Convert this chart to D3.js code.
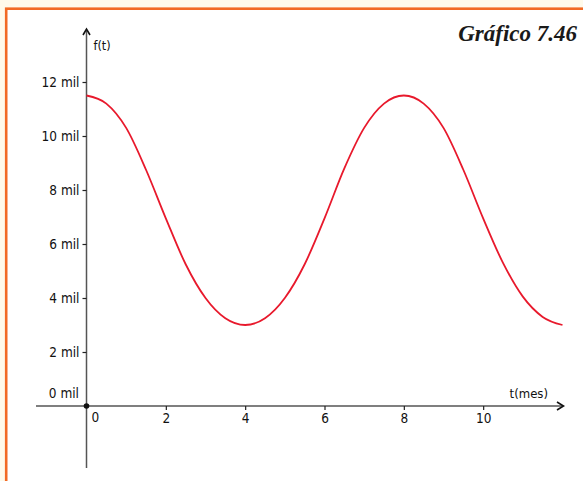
<!DOCTYPE html>
<html><head><meta charset="utf-8">
<script src="https://cdn.jsdelivr.net/npm/d3@7"></script>
<style>
html,body{margin:0;padding:0;background:#fffaea;}
svg{display:block;}
</style></head>
<body>
<svg id="c" width="583" height="481"></svg>
<script>
// Data (t in months, f in thousands)
const months = [0,0.5,1,1.5,2,2.5,3,3.5,4,4.5,5,5.5,6,6.5,7,7.5,8,8.5,9,9.5,10,10.5,11,11.5,12];
const values = [11.5,11.2,10.3,8.75,6.95,5.25,4.0,3.25,3.0,3.25,4.0,5.25,6.95,8.8,10.3,11.2,11.5,11.2,10.3,8.75,6.95,5.3,4.05,3.3,3.0];
const xTicks = [2,4,6,8,10];
const yTicks = [2,4,6,8,10,12];
const yTickLabels = ["2 mil","4 mil","6 mil","8 mil","10 mil","12 mil"];
const title = "Gráfico 7.46";

const svg = d3.select("#c");
const font = "'Liberation Sans Narrow','DejaVu Sans Condensed','Arial Narrow',sans-serif";

// frame
svg.append("rect").attr("x",6.2).attr("y",8.7).attr("width",600).attr("height",500)
  .attr("fill","#fff").attr("stroke","#f26a24").attr("stroke-width",2.6);

const x = d3.scaleLinear().domain([0,12]).range([86.5, 562.5]);
const y = d3.scaleLinear().domain([0,12]).range([406, 82]);

const axisColor = "#555";
svg.append("line").attr("x1",36).attr("x2",562).attr("y1",y(0)).attr("y2",y(0))
  .attr("stroke",axisColor).attr("stroke-width",1.5);
svg.append("line").attr("x1",x(0)).attr("x2",x(0)).attr("y1",31).attr("y2",468)
  .attr("stroke",axisColor).attr("stroke-width",1.5);

// arrows
svg.append("path").attr("d",`M${x(0)-3.5},${35} L${x(0)},${29} L${x(0)+3.5},${35}`)
  .attr("fill","none").attr("stroke","#111").attr("stroke-width",1.6);
svg.append("path").attr("d",`M557,${y(0)-4} L563.5,${y(0)} L557,${y(0)+4}`)
  .attr("fill","none").attr("stroke","#111").attr("stroke-width",1.6);

// x ticks
const xg = svg.append("g").attr("transform",`translate(0,${y(0)})`)
  .call(d3.axisBottom(x).tickValues(xTicks).tickSize(4).tickPadding(3).tickFormat(d3.format("d")));
xg.select(".domain").remove();
xg.selectAll(".tick line").attr("stroke","#222").attr("stroke-width",1.2);
xg.selectAll(".tick text").attr("font-family",font).attr("font-size",13.5).attr("fill","#111");

// y ticks
const yg = svg.append("g").attr("transform",`translate(${x(0)},0)`)
  .call(d3.axisLeft(y).tickValues(yTicks).tickSize(4).tickPadding(3)
    .tickFormat((d,i)=>yTickLabels[i]));
yg.select(".domain").remove();
yg.selectAll(".tick line").attr("stroke","#222").attr("stroke-width",1.2);
yg.selectAll(".tick text").attr("font-family",font).attr("font-size",13.5).attr("fill","#111");

// zero labels
svg.append("text").attr("x",79).attr("y",y(0)-8).attr("text-anchor","end")
  .attr("font-family",font).attr("font-size",13.5).attr("fill","#111").text("0 mil");
svg.append("text").attr("x",x(0)+5).attr("y",y(0)+16).attr("text-anchor","start")
  .attr("font-family",font).attr("font-size",13.5).attr("fill","#111").text("0");

// axis names
svg.append("text").attr("x",548).attr("y",y(0)-8).attr("text-anchor","end")
  .attr("font-family",font).attr("font-size",13).attr("fill","#111").text("t(mes)");
svg.append("text").attr("x",x(0)+7).attr("y",50).attr("text-anchor","start")
  .attr("font-family",font).attr("font-size",12.5).attr("fill","#111").text("f(t)");

// origin dot
svg.append("circle").attr("cx",x(0)).attr("cy",y(0)).attr("r",2.8).attr("fill","#111");

// curve
const line = d3.line().x((d,i)=>x(months[i])).y(d=>y(d)).curve(d3.curveCardinal.tension(0));
svg.append("path").datum(values).attr("d",line).attr("fill","none")
  .attr("stroke","#e8192c").attr("stroke-width",1.8);

// title
svg.append("text").attr("x",577).attr("y",41).attr("text-anchor","end")
  .attr("font-family","'Liberation Serif','DejaVu Serif',serif").attr("font-style","italic")
  .attr("font-weight","bold").attr("font-size",23).attr("fill","#1a1a1a").text(title);
</script>
</body></html>
